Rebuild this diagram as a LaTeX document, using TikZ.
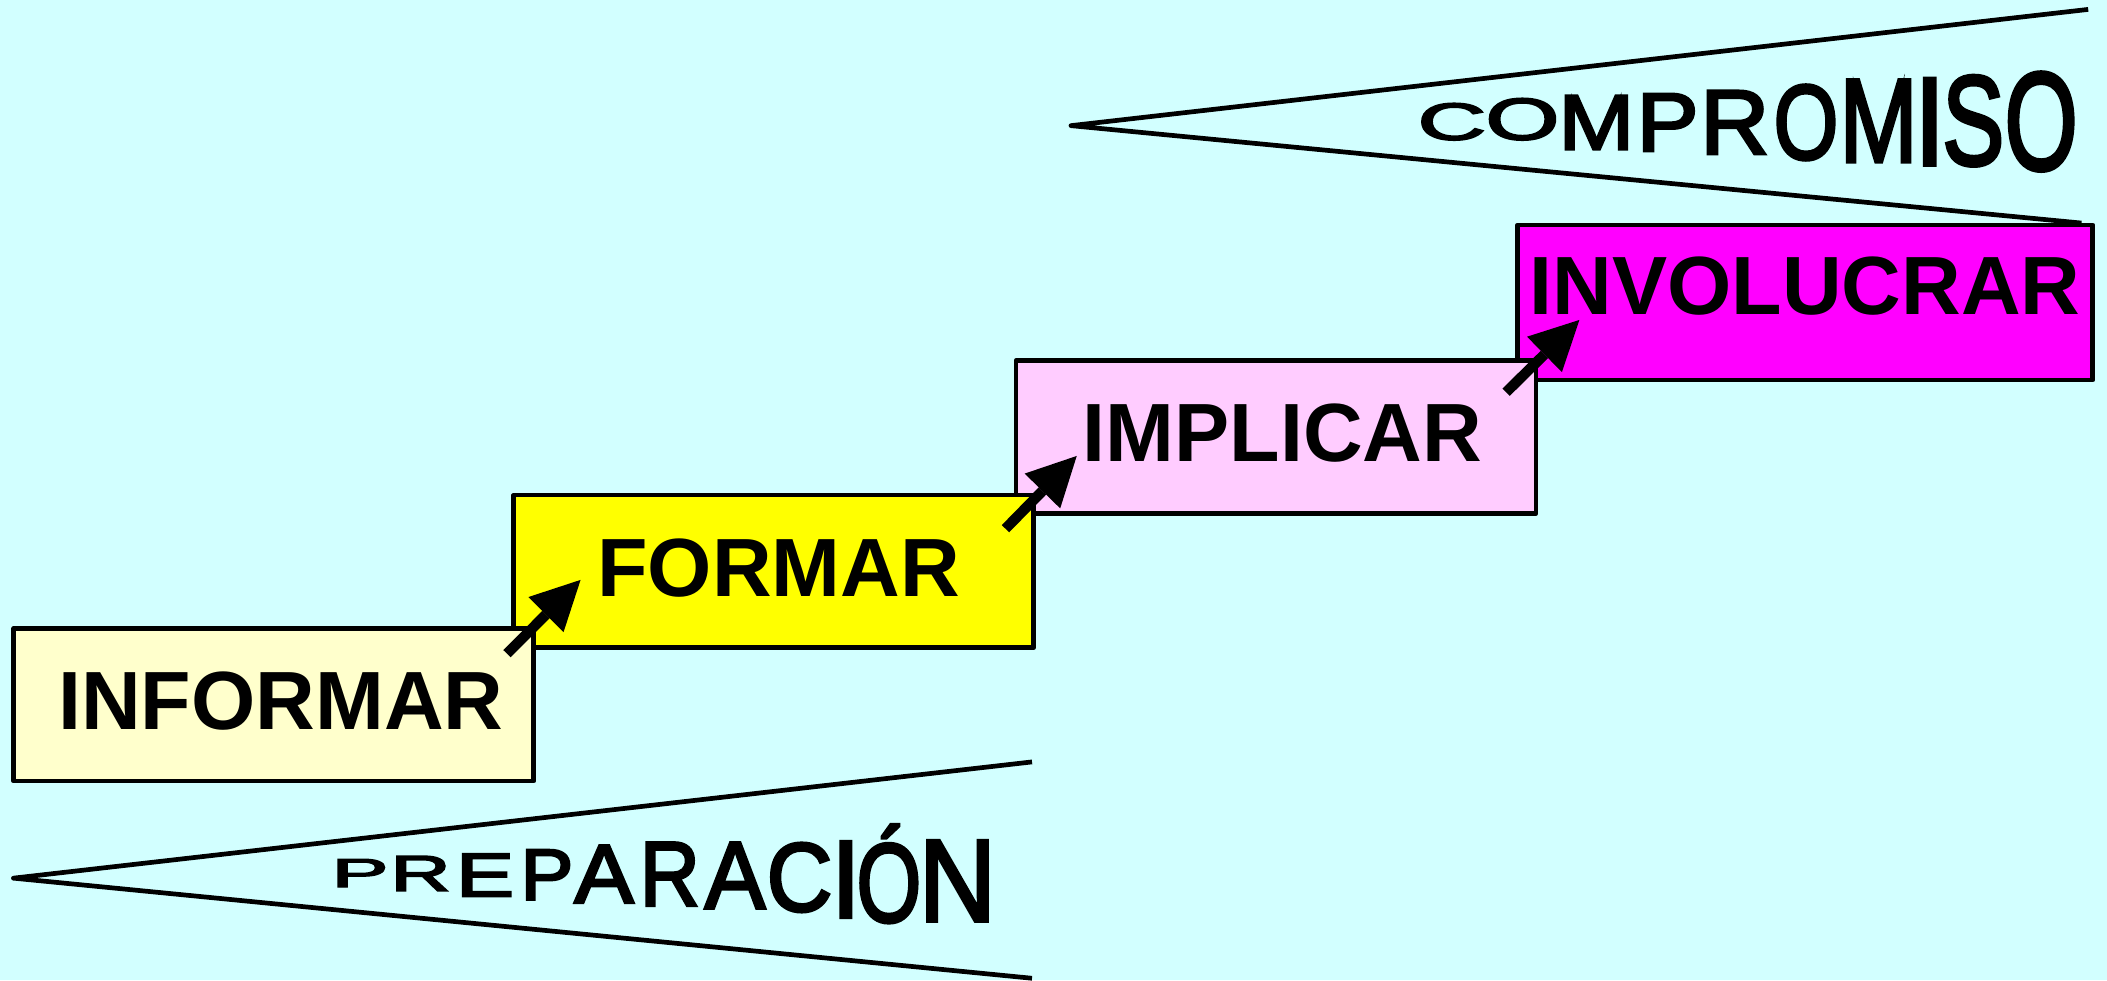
\documentclass[tikz,border=0pt]{standalone}
\usepackage{fontspec}
\setmainfont{Liberation Sans}
\newfontfamily\wafont[FakeBold=3]{Liberation Sans}
\usetikzlibrary{arrows.meta,calc}
\definecolor{bg}{HTML}{D2FFFF}
\definecolor{cinf}{HTML}{FFFFCC}
\definecolor{cfor}{HTML}{FFFF00}
\definecolor{cimp}{HTML}{FFCCFF}
\definecolor{cinv}{HTML}{FF00FF}
\begin{document}
\begin{tikzpicture}[x=0.5pt,y=-0.5pt,
  box/.style={draw=black, line width=1.75pt, line join=round, rectangle, inner sep=0pt, outer sep=0pt,
    minimum width=193.5pt, minimum height=56.75pt,
    font=\fontsize{30.75}{30.75}\selectfont\bfseries, text height=22pt, text depth=3.5pt},
  stepArrow/.style={line width=3.85pt, -{Triangle[length=18.25pt,width=18.5pt,line width=0pt]}},
  wedge/.style={line width=1.75pt, line join=round},
  pers/.style={inner sep=0pt, outer sep=0pt, anchor=center, font=\wafont\fontsize{36}{36}\selectfont}]
\fill[bg] (0,0) rectangle (1568,729.3);
\useasboundingbox (0,0) rectangle (1568,729.3);
% wedges
\coordinate (ta) at (797,93.5);
\coordinate (tt) at (1554,7);
\coordinate (tb) at (1549,166);
\draw[wedge] (tt) -- (ta) -- (tb);
\coordinate (ba) at (10,653.5);
\coordinate (bt) at (768,567);
\coordinate (bb) at (768,728);
\draw[wedge] (bt) -- (ba) -- (bb);
% boxes (upper steps first, lower steps drawn over them)
\node[box, fill=cinv, minimum width=214pt, minimum height=57.7pt, text depth=13.2pt] (inv) at (1343.35,225.1) {INVOLUCRAR};
\node[box, fill=cimp] (imp) at (949.6,325.15) {\kern4.75pt IMPLICAR};
\node[box, fill=cfor] (for) at (575.85,425.2) {\kern3.65pt FORMAR};
\node[box, fill=cinf] (inf) at (203.75,524.5) {\kern5.25pt INFORMAR};
% arrows
\draw[stepArrow] ($(inf.north east)+(-20,18.7)$) -- ($(for.south west)+(49.7,-50.4)$);
\draw[stepArrow] ($(for.north east)+(-21.1,25)$) -- ($(imp.south west)+(45.2,-42.6)$);
\draw[stepArrow] ($(imp.north east)+(-22.3,23.5)$) -- ($(inv.south west)+(46,-44.7)$);
% COMPROMISO
\node[pers, xscale=0.98, yscale=0.54] (c1) at (1080.5,90.6) {C};
\node[pers, xscale=0.98, yscale=0.61] (c2) at (1133,88.75) {O};
\node[pers, xscale=0.94, yscale=0.81] (c3) at (1188,91.15) {M};
\node[pers, xscale=0.96, yscale=0.86] (c4) at (1241,91.1) {P};
\node[pers, xscale=0.99, yscale=0.95] (c5) at (1291,91.15) {R};
\node[pers, xscale=0.86, yscale=1.10] (c6) at (1344,91.15) {O};
\node[pers, xscale=0.97, yscale=1.23] (c7) at (1398,89.9) {M};
\node[pers, xscale=1.15, yscale=1.30] (c8) at (1436,90.55) {I};
\node[pers, xscale=0.96, yscale=1.32] (c9) at (1468.5,89.9) {S};
\node[pers, xscale=0.97, yscale=1.44] (c10) at (1519,90.5) {O};
% PREPARACION
\node[pers, xscale=0.88, yscale=0.42] (p1) at (268,649.75) {P};
\node[pers, xscale=0.86, yscale=0.52] (p2) at (313,650) {R};
\node[pers, xscale=0.90, yscale=0.64] (p3) at (361,651.25) {E};
\node[pers, xscale=0.82, yscale=0.75] (p4) at (407,651) {P};
\node[pers, xscale=0.92, yscale=0.86] (p5) at (449.5,650.5) {A};
\node[pers, xscale=0.86, yscale=0.95] (p6) at (498.5,650.5) {R};
\node[pers, xscale=0.94, yscale=0.99] (p7) at (547,651.5) {A};
\node[pers, xscale=0.94, yscale=1.01] (p8) at (595,653) {C};
\node[pers, xscale=1.1, yscale=1.14] (p9) at (629.5,654.5) {I};
\node[pers, xscale=0.86, yscale=1.16, anchor=base] (p10) at (661.5,686) {Ó};
\node[pers, xscale=1.10, yscale=1.21] (p11) at (712.5,655.5) {N};
\end{tikzpicture}
\end{document}
